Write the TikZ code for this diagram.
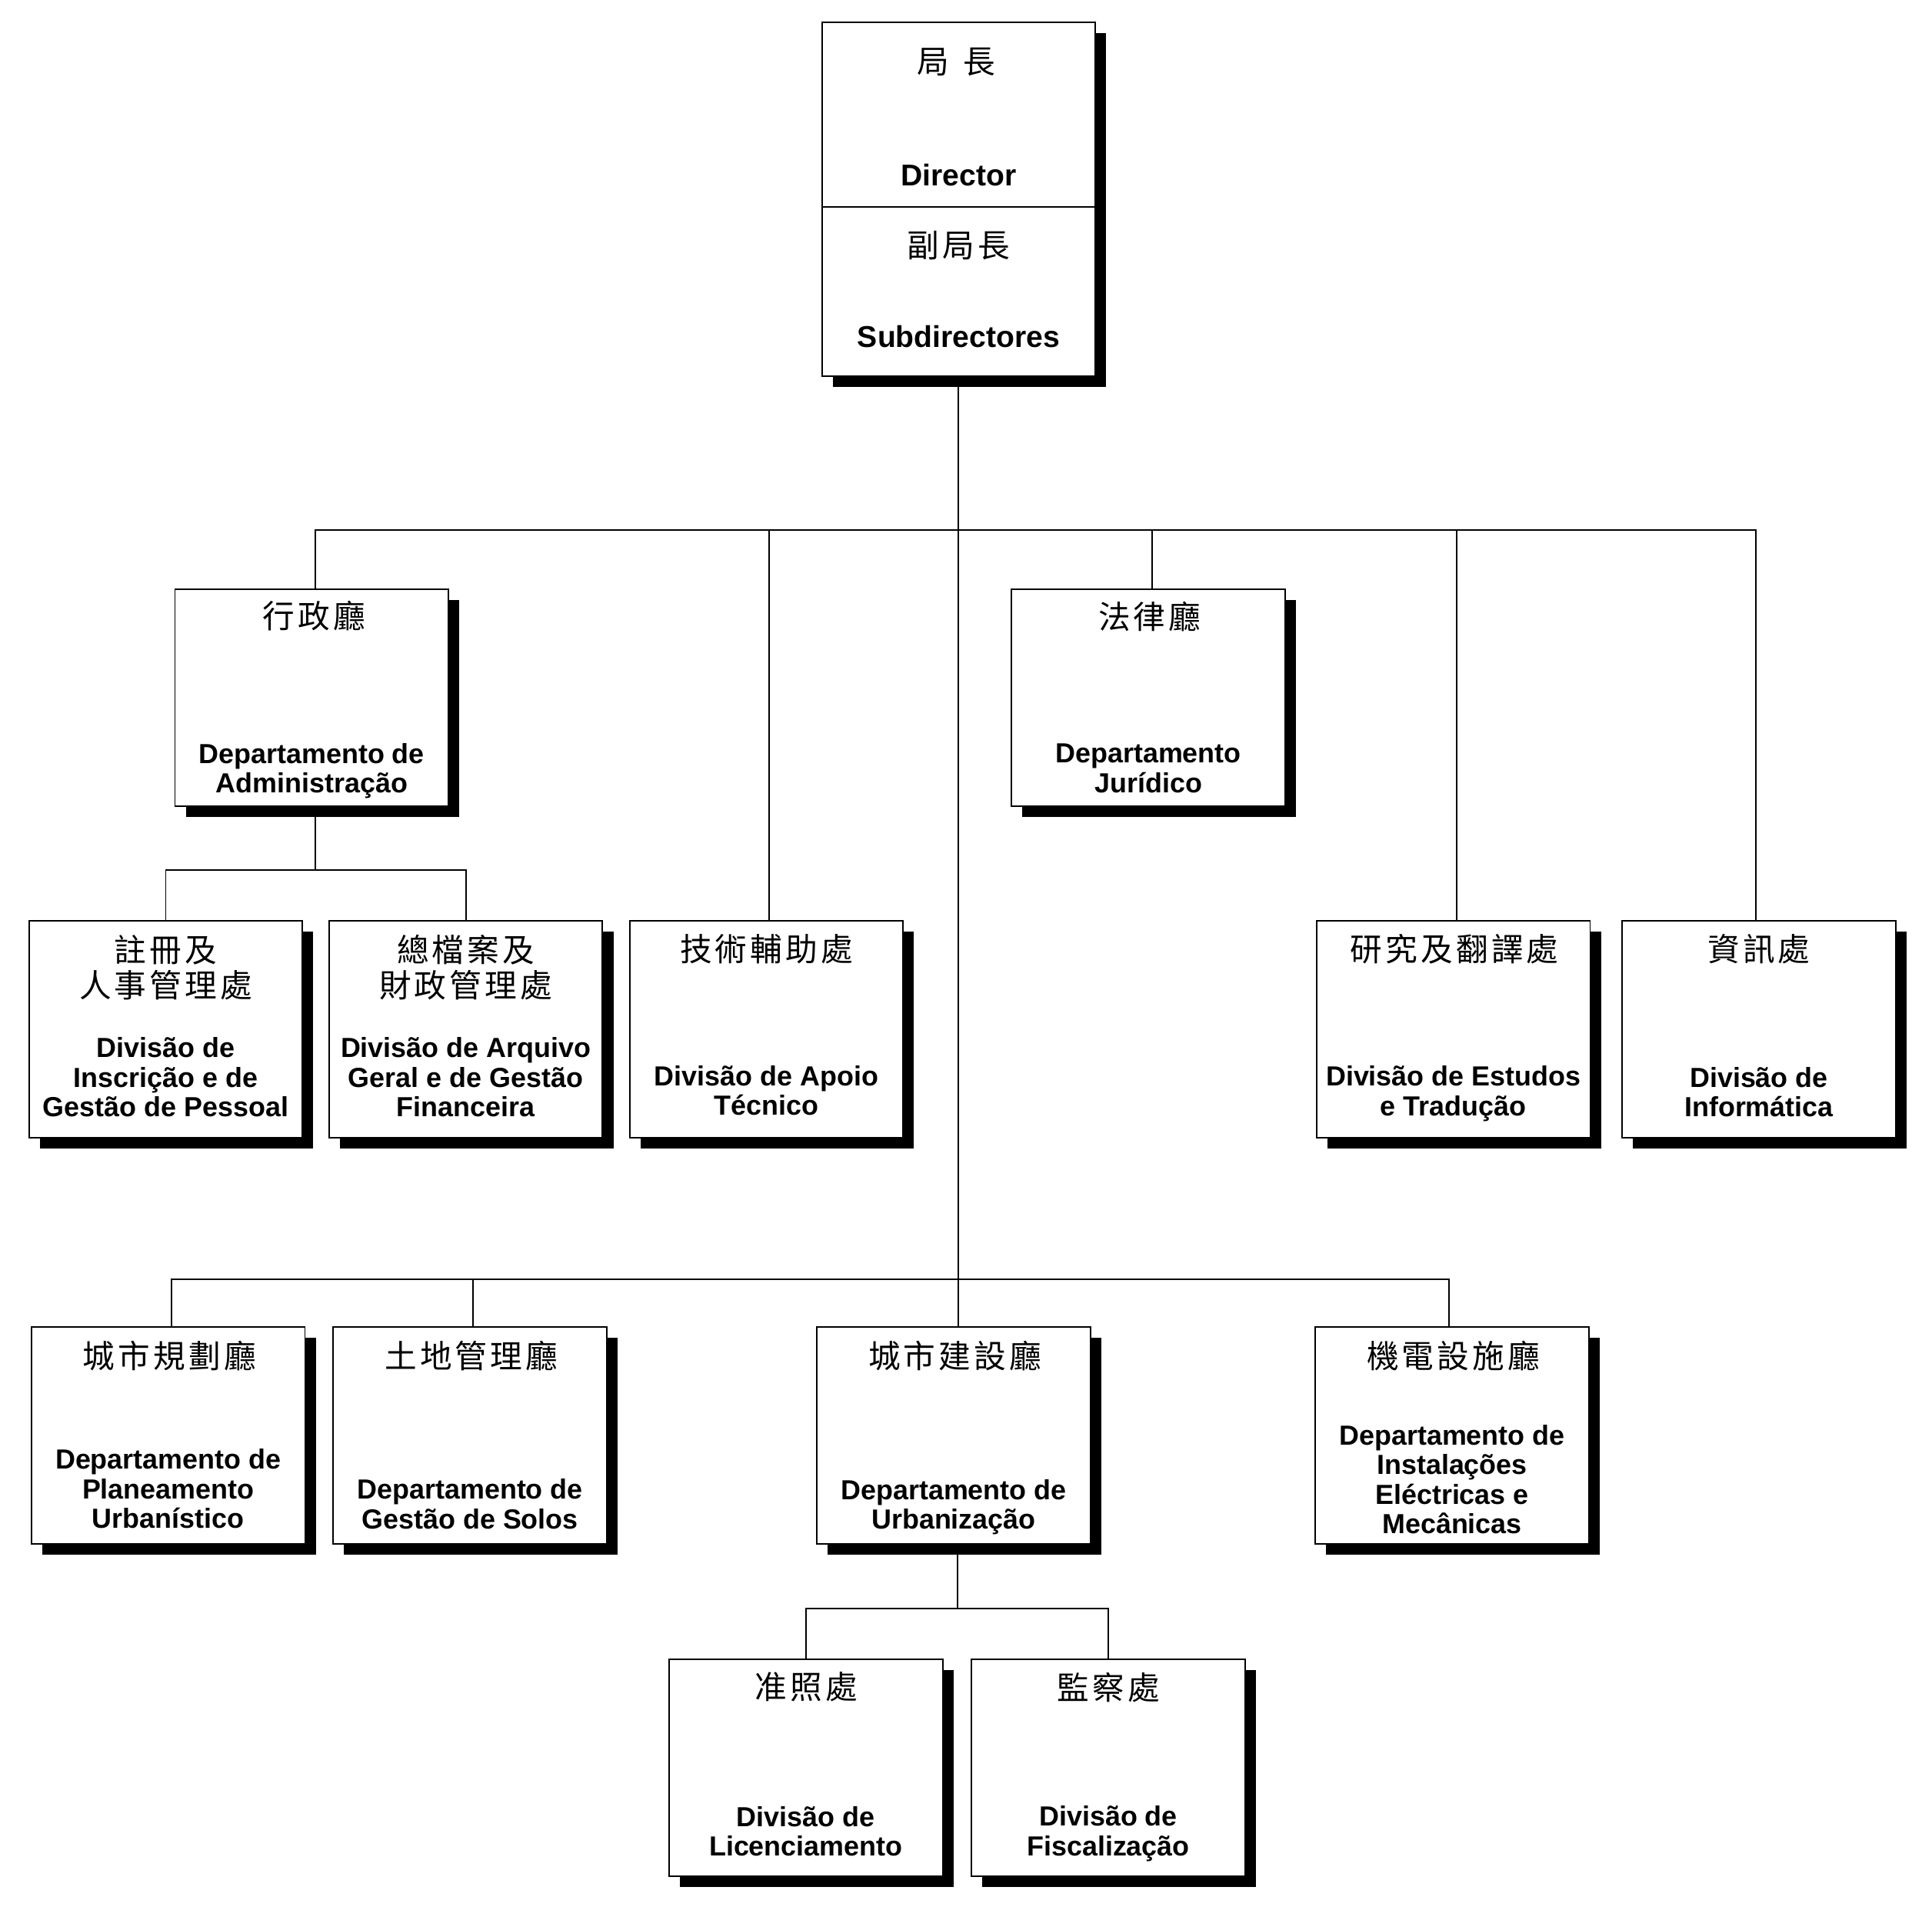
\documentclass[tikz,border=0pt]{standalone}
\usepackage{fontspec}
\setmainfont{Liberation Sans}
\newfontfamily\cjk[LetterSpace=10]{Noto Sans CJK TC}
\usetikzlibrary{shadows}
\tikzset{
  box/.style={draw, line width=0.6pt, fill=white, rectangle, inner sep=0pt,
    minimum width=111pt, minimum height=88pt,
    drop shadow={shadow xshift=4.4pt, shadow yshift=-4.4pt, fill=black, opacity=1}},
  zh/.style={font=\cjk\fontsize{13}{14.5}\selectfont, align=center, inner sep=0pt},
  pt/.style={font=\bfseries\fontsize{11.2}{12}\selectfont, align=center, inner sep=0pt},
  ptbig/.style={font=\bfseries\fontsize{12.2}{13}\selectfont, align=center, inner sep=0pt},
  link/.style={line width=0.6pt}
}
\begin{document}
\begin{tikzpicture}[x=0.5pt,y=-0.5pt]
\useasboundingbox (0,0) rectangle (1568,1547);
% boxes
\node[box, minimum height=143.5pt] (dir) at (778,161.5) {};
\node[box] (adm) at (253,566) {};
\node[box] (jur) at (932,566) {};
\node[box] (ins) at (134.5,835) {};
\node[box] (arq) at (378,835) {};
\node[box] (apo) at (622,835) {};
\node[box] (est) at (1179.5,835) {};
\node[box] (inf) at (1427.5,835) {};
\node[box] (pla) at (136.5,1164.5) {};
\node[box] (sol) at (381.5,1164.5) {};
\node[box] (urb) at (774,1164.5) {};
\node[box] (ele) at (1178.5,1164.5) {};
\node[box] (lic) at (654,1434.5) {};
\node[box] (fis) at (899.5,1434.5) {};
% divider in top box
\coordinate (divy) at (0,168);
\draw[link] (dir.west |- divy) -- (dir.east |- divy);
% bus coordinates
\coordinate (b1L) at (256,430);
\coordinate (b1R) at (1425,430);
\coordinate (b1apo) at (624,430);
\coordinate (b1jur) at (935,430);
\coordinate (b1est) at (1182,430);
\coordinate (a1) at (256,706);
\coordinate (b2L) at (139,1038);
\coordinate (b2R) at (1176,1038);
\coordinate (b2sol) at (384,1038);
\coordinate (u1) at (777,1305);
% connectors
\draw[link] (dir.south) -- (dir.south |- urb.north);
\draw[link] (b1L |- adm.north) -- (b1L) -- (b1R) -- (b1R |- inf.north);
\draw[link] (b1apo) -- (b1apo |- apo.north);
\draw[link] (b1jur) -- (b1jur |- jur.north);
\draw[link] (b1est) -- (b1est |- est.north);
\draw[link] (a1 |- adm.south) -- (a1);
\draw[link] (ins.north) |- (a1) -| (arq.north);
\draw[link] (b2L |- pla.north) -- (b2L) -- (b2R) -- (b2R |- ele.north);
\draw[link] (b2sol) -- (b2sol |- sol.north);
\draw[link] (u1 |- urb.south) -- (u1);
\draw[link] (lic.north) |- (u1) -| (fis.north);
% texts
\node[zh] (dirzh) at (776,50) {局\hspace{0.45em}長};
\node[ptbig] (dirpt) at (778,142) {Director};
\node[zh] (subzh) at (778,199) {副局長};
\node[ptbig] (subpt) at (778,273) {Subdirectores};
\node[zh] (admzh) at (255,500) {行政廳};
\node[pt] (admpt) at (253,625.5) {Departamento de\\Administração};
\node[zh] (jurzh) at (933,500) {法律廳};
\node[pt] (jurpt) at (932,623.5) {Departamento\\Jurídico};
\node[zh] (inszh) at (134.5,785) {註冊及\\人事管理處};
\node[pt] (inspt) at (134.5,874) {Divisão de\\Inscrição e de\\Gestão de Pessoal};
\node[zh] (arqzh) at (378,785) {總檔案及\\財政管理處};
\node[pt] (arqpt) at (378,874) {Divisão de Arquivo\\Geral e de Gestão\\Financeira};
\node[zh] (apozh) at (622,770) {技術輔助處};
\node[pt] (apopt) at (622,885) {Divisão de Apoio\\Técnico};
\node[zh] (estzh) at (1180.5,770) {研究及翻譯處};
\node[pt] (estpt) at (1179.5,887.5) {Divisão de Estudos\\e Tradução};
\node[zh] (infzh) at (1427.5,770) {資訊處};
\node[pt] (infpt) at (1427.5,886) {Divisão de\\Informática};
\node[zh] (plazh) at (137.5,1100) {城市規劃廳};
\node[pt] (plapt) at (136.5,1208) {Departamento de\\Planeamento\\Urbanístico};
\node[zh] (solzh) at (382.5,1100) {土地管理廳};
\node[pt] (solpt) at (381.5,1220.5) {Departamento de\\Gestão de Solos};
\node[zh] (urbzh) at (775,1100) {城市建設廳};
\node[pt] (urbpt) at (774,1223) {Departamento de\\Urbanização};
\node[zh] (elezh) at (1179.5,1100) {機電設施廳};
\node[pt] (elept) at (1178.5,1200.5) {Departamento de\\Instalações\\Eléctricas e\\Mecânicas};
\node[zh] (liczh) at (654.5,1369) {准照處};
\node[pt] (licpt) at (654,1486) {Divisão de\\Licenciamento};
\node[zh] (fiszh) at (899.5,1369) {監察處};
\node[pt] (fispt) at (899.5,1488) {Divisão de\\Fiscalização};
\end{tikzpicture}
\end{document}
